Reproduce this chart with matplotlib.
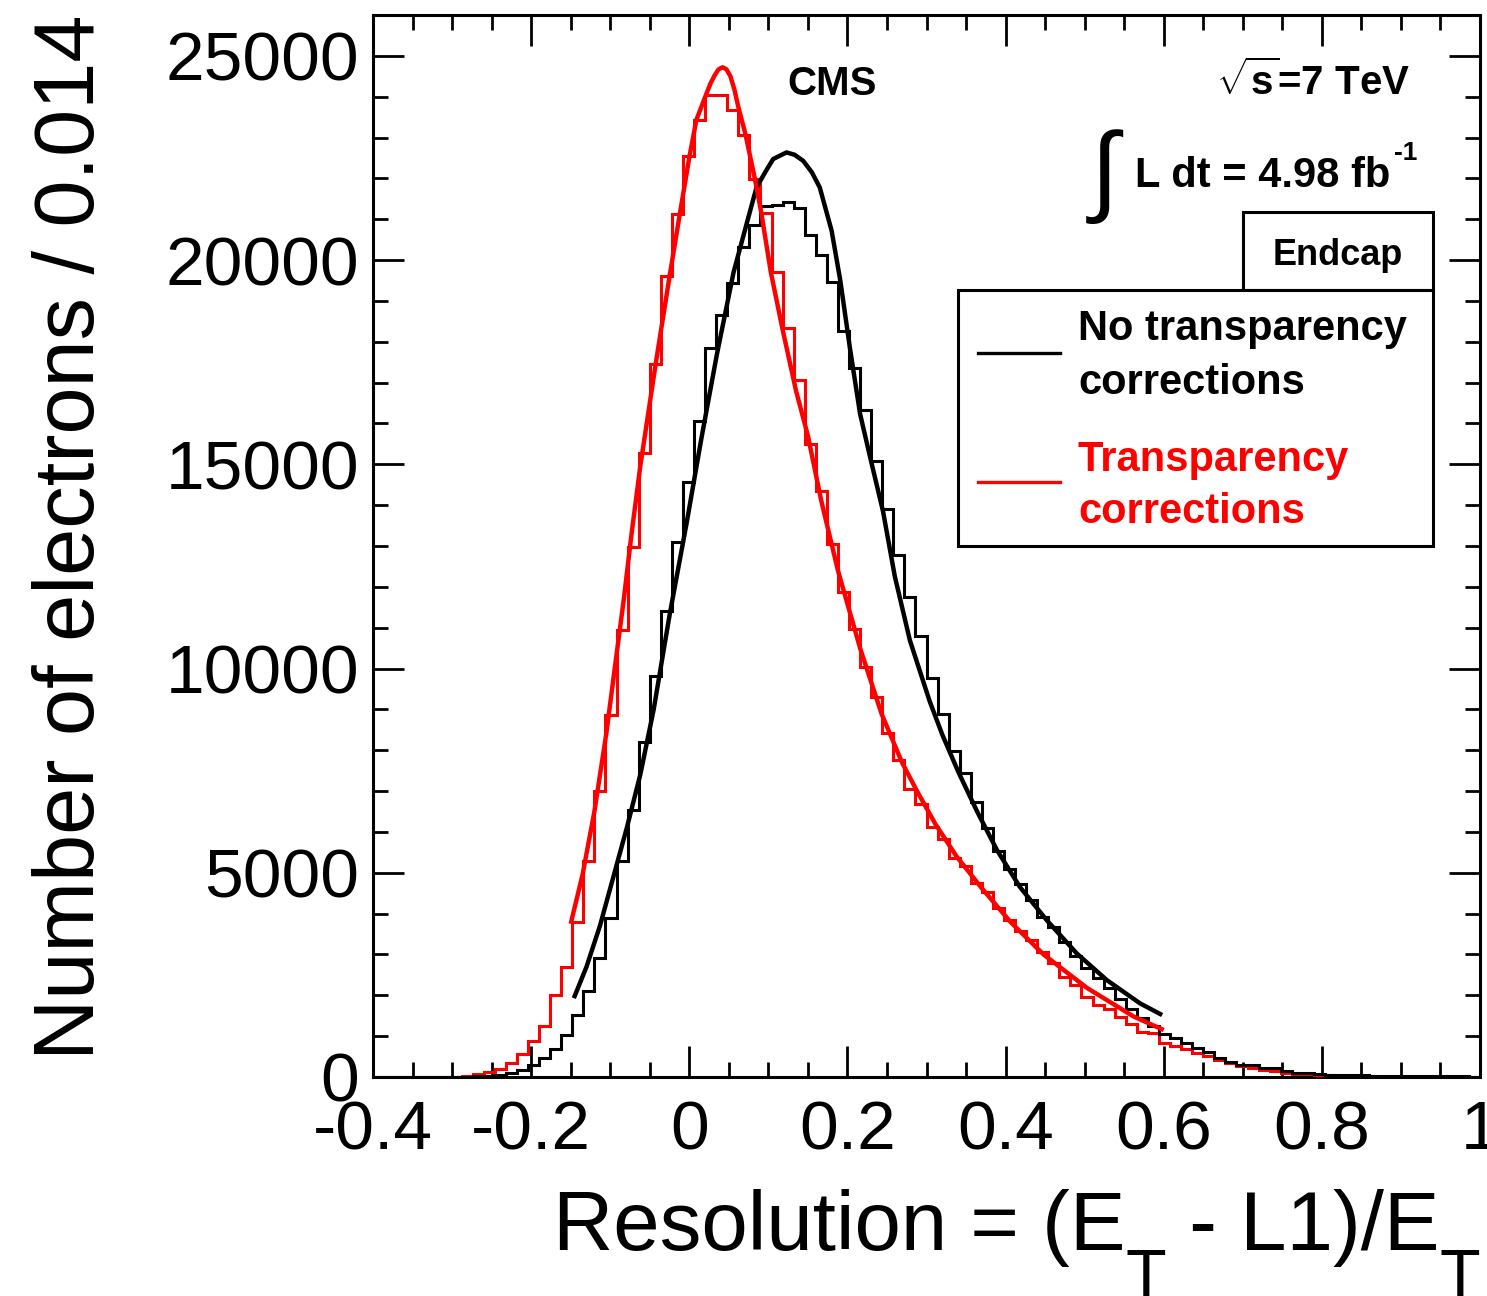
import numpy as np
import matplotlib
matplotlib.use("Agg")
import matplotlib.pyplot as plt
from matplotlib.patches import Rectangle
from matplotlib.ticker import MultipleLocator

# ------------------------------------------------------------------
# data (100 bins of width 0.014 from -0.4 to 1.0)
# ------------------------------------------------------------------
bin_lo, bin_hi, n_bins = -0.4, 1.0, 100

counts_no_corr = [
    0, 0, 0, 0, 0, 0, 0, 2, 5, 20,
    35, 60, 106, 171, 294, 457, 685, 1027, 1520, 2100,
    2910, 3898, 5280, 6530, 8190, 9820, 11400, 13098, 14562, 16050,
    17855, 18660, 19445, 20310, 20870, 21325, 21360, 21432, 21270, 20605,
    20125, 19455, 18273, 17360, 16325, 15070, 13911, 12786, 11758, 10795,
    9777, 8880, 7990, 7444, 6735, 6099, 5528, 5104, 4713, 4330,
    3922, 3677, 3310, 2960, 2659, 2414, 2170, 1901, 1656, 1451,
    1256, 1060, 960, 840, 718, 620, 457, 375, 294, 294,
    212, 212, 155, 106, 106, 70, 60, 50, 45, 40,
    35, 30, 28, 25, 22, 20, 18, 15, 13, 10,
]

counts_corr = [
    0, 0, 0, 0, 0, 0, 5, 10, 30, 73,
    130, 200, 345, 560, 875, 1250, 2010, 2700, 3800, 5300,
    7010, 8870, 10940, 12980, 15270, 17458, 19618, 21127, 22537, 23434,
    24046, 24046, 23675, 23072, 21995, 21160, 19720, 18345, 17060, 15500,
    14335, 13045, 11880, 10975, 10037, 9315, 8430, 7754, 7061, 6694,
    6115, 5838, 5373, 5161, 4753, 4533, 4126, 3840, 3571, 3351,
    3050, 2781, 2454, 2250, 1965, 1761, 1656, 1475, 1296, 1109,
    1068, 840, 770, 685, 579, 514, 416, 335, 260, 215,
    175, 140, 110, 85, 65, 50, 40, 30, 25, 20,
    15, 12, 10, 8, 6, 5, 4, 3, 2, 2,
]

# fitted curves, points
fit_no_corr_x = [-0.146, -0.130, -0.113, -0.096, -0.079, -0.062, -0.045, -0.025,
                 -0.003, 0.015, 0.035, 0.056, 0.073, 0.085, 0.096, 0.106, 0.115,
                 0.123, 0.133, 0.144, 0.155, 0.165, 0.180, 0.191, 0.203, 0.216,
                 0.229, 0.245, 0.260, 0.279, 0.304, 0.320, 0.340, 0.364, 0.389,
                 0.418, 0.452, 0.490, 0.528, 0.570, 0.598]
fit_no_corr_y = [1930, 2698, 3700, 4900, 6100, 7400, 9000, 11300,
                 13600, 15600, 17700, 19700, 20923, 21779, 22150, 22472, 22560,
                 22635, 22580, 22431, 22150, 21779, 20720, 19497, 17866, 16235,
                 15150, 13850, 12250, 10690, 9200, 8380, 7480, 6500, 5560,
                 4655, 3840, 3026, 2373, 1803, 1517]

fit_corr_x = [-0.150, -0.135, -0.120, -0.105, -0.094, -0.083, -0.073, -0.062,
              -0.0425, -0.0248, -0.012, 0.000, 0.009, 0.0215, 0.027, 0.032,
              0.037, 0.042, 0.047, 0.052, 0.057, 0.062, 0.071, 0.083, 0.091,
              0.103, 0.118, 0.135, 0.150, 0.167, 0.188, 0.216, 0.243, 0.269,
              0.288, 0.311, 0.338, 0.370, 0.406, 0.448, 0.503, 0.562, 0.600]
fit_corr_y = [3750, 4950, 6500, 8400, 10045, 11668, 13300, 14950,
              17458, 19618, 21127, 22513, 23434, 24064, 24330, 24520,
              24670, 24720, 24670, 24500, 24180, 23750, 23085, 21983, 21168,
              19716, 18300, 16800, 15700, 14100, 12400, 10500, 8900, 7700,
              7000, 6200, 5400, 4620, 3800, 3000, 2180, 1480, 1150]

x_ticks = [-0.4, -0.2, 0, 0.2, 0.4, 0.6, 0.8, 1]
x_tick_labels = ["-0.4", "-0.2", "0", "0.2", "0.4", "0.6", "0.8", "1"]
y_ticks = [0, 5000, 10000, 15000, 20000, 25000]
y_tick_labels = ["0", "5000", "10000", "15000", "20000", "25000"]

# ------------------------------------------------------------------
# style
# ------------------------------------------------------------------
plt.rcParams["font.family"] = ["Liberation Sans", "DejaVu Sans"]
plt.rcParams["mathtext.fontset"] = "custom"
plt.rcParams["mathtext.rm"] = "Liberation Sans"
plt.rcParams["mathtext.it"] = "Liberation Sans:italic"
plt.rcParams["mathtext.bf"] = "Liberation Sans:bold"

W, H = 1487, 1296
fig = plt.figure(figsize=(W / 100, H / 100), dpi=100)
ax = fig.add_axes([373 / W, 1 - 1077 / H, (1480 - 373) / W, (1077 - 15) / H])

edges = np.linspace(bin_lo, bin_hi, n_bins + 1)
ax.stairs(counts_corr, edges, color="#ff0000", lw=2.2, zorder=3)
ax.stairs(counts_no_corr, edges, color="black", lw=2.2, zorder=3)
ax.plot(fit_no_corr_x, fit_no_corr_y, color="black", lw=3.2, zorder=4,
        solid_capstyle="butt", solid_joinstyle="round")
ax.plot(fit_corr_x, fit_corr_y, color="#ff0000", lw=3.2, zorder=5,
        solid_capstyle="butt", solid_joinstyle="round")

ax.set_xlim(bin_lo, bin_hi)
ax.set_ylim(0, 26000)
ax.set_xticks(x_ticks)
ax.set_xticklabels(x_tick_labels)
ax.set_yticks(y_ticks)
ax.set_yticklabels(y_tick_labels)
ax.xaxis.set_minor_locator(MultipleLocator(0.05))
ax.yaxis.set_minor_locator(MultipleLocator(1000))
ax.tick_params(which="both", direction="in", top=True, right=True, width=2.0,
               labelsize=50)
ax.tick_params(which="major", length=22)
ax.tick_params(which="minor", length=11)
ax.tick_params(axis="x", which="major", pad=16)
ax.tick_params(axis="y", which="major", pad=10)
for s in ax.spines.values():
    s.set_linewidth(2.2)

# ------------------------------------------------------------------
# axis titles, ROOT style (aligned to the far ends)
# ------------------------------------------------------------------
fig.text(72 / W, 1 - 15 / H, "Number of electrons / 0.014", rotation=90,
         ha="center", va="top", fontsize=61)

# x title built from pieces so the subscripts can be big and low, like ROOT
renderer = fig.canvas.get_renderer()
pieces = [("Resolution = (E", 60, 0), ("T", 48, 46), (" - L1)/E", 60, 0), ("T", 48, 46)]
base_y = 1250
made = []
for txt, size, drop in pieces:
    t = fig.text(0, 1 - (base_y + drop) / H, txt, ha="left", va="baseline", fontsize=size)
    made.append(t)
widths = [t.get_window_extent(renderer).width for t in made]
x_now = 1480 - sum(widths)
for t, w in zip(made, widths):
    t.set_x(x_now / W)
    x_now += w

# ------------------------------------------------------------------
# labels inside the frame
# ------------------------------------------------------------------
def axpos(px, py):
    return (px - 373) / 1107, (1077 - py) / 1062

tr = ax.transAxes
ax.text(*axpos(832, 95), "CMS", transform=tr, ha="center", va="baseline",
        fontsize=29, fontweight="bold")
ax.text(*axpos(1410, 95), r"$\sqrt{\mathbf{s}}$=7 TeV", transform=tr, ha="right",
        va="baseline", fontsize=29, fontweight="bold")
ax.text(*axpos(1106, 176), r"$\int$", transform=tr, ha="center", va="center",
        fontsize=72)
ax.text(*axpos(1135, 187), "L dt = 4.98 fb", transform=tr,
        ha="left", va="baseline", fontsize=30, fontweight="bold")
ax.text(*axpos(1394, 160), "-1", transform=tr,
        ha="left", va="baseline", fontsize=19, fontweight="bold")

# Endcap box and legend box
x0, y0 = axpos(1243, 290)
x1, y1 = axpos(1433, 212)
ax.add_patch(Rectangle((x0, y0), x1 - x0, y1 - y0, transform=tr, fill=False,
                       lw=2.2, ec="black", zorder=6))
ax.text(*axpos(1338, 265), "Endcap", transform=tr, ha="center", va="baseline",
        fontsize=26, fontweight="bold")

x0, y0 = axpos(958, 546)
x1, y1 = axpos(1433, 290)
ax.add_patch(Rectangle((x0, y0), x1 - x0, y1 - y0, transform=tr, fc="white",
                       lw=2.2, ec="black", zorder=6))
lx0, _ = axpos(978, 0)
lx1, _ = axpos(1060, 0)
_, ly = axpos(0, 353)
ax.plot([lx0, lx1], [ly, ly], transform=tr, color="black", lw=2.4, zorder=7)
_, ly = axpos(0, 482)
ax.plot([lx0, lx1], [ly, ly], transform=tr, color="#ff0000", lw=2.4, zorder=7)
legend_rows = [("No transparency", 340, "black"), ("corrections", 394, "black"),
               ("Transparency", 471, "#ff0000"), ("corrections", 523, "#ff0000")]
for txt, base, col in legend_rows:
    ax.text(*axpos(1078, base), txt, transform=tr, ha="left", va="baseline",
            fontsize=30, fontweight="bold", color=col, zorder=8)

fig.savefig("out.png", dpi=100)
